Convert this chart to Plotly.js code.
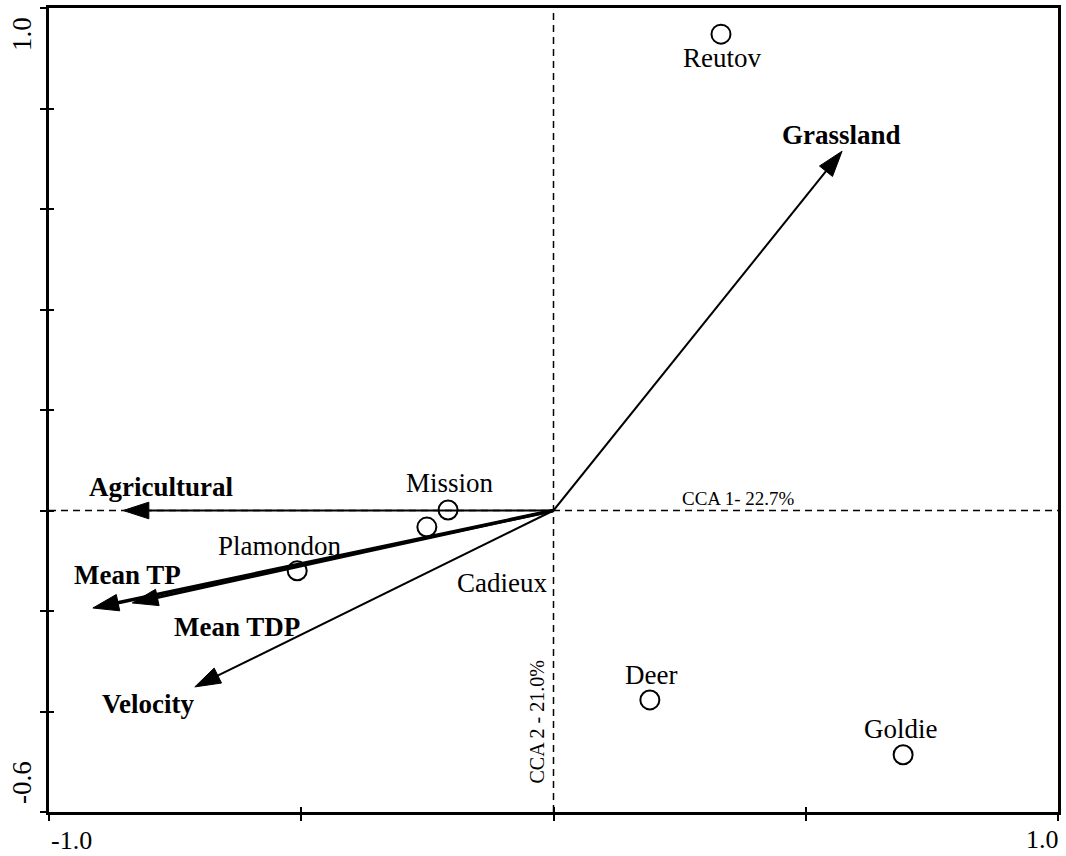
<!DOCTYPE html>
<html>
<head>
<meta charset="utf-8">
<script src="https://cdn.plot.ly/plotly-3.0.1.min.js"></script>
<style>html,body{margin:0;padding:0;background:#fff;}#chart{width:1066px;height:856px;}</style>
</head>
<body>
<div id="chart"></div>
<script>
// ---- data ----
const siteNames = ['Reutov', 'Mission', 'Cadieux', 'Plamondon', 'Deer', 'Goldie'];
const siteX = [0.332, -0.209, -0.251, -0.508, 0.191, 0.693];
const siteY = [0.948, 0.001, -0.033, -0.120, -0.377, -0.486];

const envNames = ['Grassland', 'Agricultural', 'Mean TP', 'Mean TDP', 'Velocity'];
const envX = [0.572, -0.853, -0.913, -0.835, -0.711];
const envY = [0.715, 0.000, -0.194, -0.184, -0.351];

const axis1Label = 'CCA 1- 22.7%';
const axis2Label = 'CCA 2 - 21.0%';

const xTickVals = [-1, -0.5, 0, 0.5, 1];
const yTickVals = [-0.6, -0.4, -0.2, 0, 0.2, 0.4, 0.6, 0.8, 1.0];
const xLabelVals = [-1, 1];
const xLabelText = ['-1.0', '1.0'];
const yLabelVals = [1.0, -0.6];
const yLabelText = ['1.0', '-0.6'];

// ---- styles / offsets (pixels) ----
const siteLabelShift = [[1, -24], [2, 27], [75, -56], [-17, 25], [1, 25], [-2, 26]];
const envLabelShift = [[-1, 16], [38, 24], [35, 33], [105, -24], [-47, -17]];
const envLineWidth = [2, 2, 3.5, 3, 2];
const xLabelShift = [[22, -28], [-16, -27]];
const yLabelShift = [[-27, -26], [-27, 29]];

const FONT = 'Liberation Serif, Times New Roman, serif';
const traces = [];

envNames.forEach((n, i) => {
  traces.push({
    type: 'scatter', mode: 'lines+markers',
    x: [0, envX[i]], y: [0, envY[i]],
    line: { color: '#000', width: envLineWidth[i] },
    marker: { symbol: 'arrow', angleref: 'previous', size: [0, 27], color: '#000', opacity: 1, line: { width: 1, color: '#000' } },
    hoverinfo: 'skip', showlegend: false, cliponaxis: false
  });
});

traces.push({
  type: 'scatter', mode: 'markers',
  x: siteX, y: siteY, text: siteNames,
  marker: { symbol: 'circle-open', size: 19, color: '#000', line: { width: 2, color: '#000' } },
  showlegend: false, cliponaxis: false
});

// dummy trace for overlay axes (inside tick marks)
traces.push({ type: 'scatter', mode: 'markers', x: [], y: [], xaxis: 'x2', yaxis: 'y2', showlegend: false });

const annotations = [];
function ann(o) {
  annotations.push(Object.assign({ showarrow: false, xanchor: 'center', yanchor: 'middle' }, o));
}
siteNames.forEach((n, i) => {
  ann({
    x: siteX[i], y: siteY[i], xref: 'x', yref: 'y', text: n,
    xshift: siteLabelShift[i][0], yshift: siteLabelShift[i][1],
    font: { family: FONT, size: 27, color: '#000' }
  });
});
envNames.forEach((n, i) => {
  ann({
    x: envX[i], y: envY[i], xref: 'x', yref: 'y', text: '<b>' + n + '</b>',
    xshift: envLabelShift[i][0], yshift: envLabelShift[i][1],
    font: { family: FONT, size: 27, color: '#000' }
  });
});
ann({
  x: 0.366, y: 0, xref: 'x', yref: 'y', text: axis1Label, yshift: 12,
  font: { family: FONT, size: 19, color: '#000' }
});
ann({
  x: 0, y: -0.421, xref: 'x', yref: 'y', text: axis2Label, textangle: -90, xshift: -16,
  font: { family: FONT, size: 20, color: '#000' }
});
xLabelVals.forEach((v, i) => {
  ann({
    x: v, y: 0, xref: 'x', yref: 'paper', text: xLabelText[i],
    xshift: xLabelShift[i][0], yshift: xLabelShift[i][1],
    font: { family: FONT, size: 26, color: '#000' }
  });
});
yLabelVals.forEach((v, i) => {
  ann({
    x: 0, y: v, xref: 'paper', yref: 'y', text: yLabelText[i], textangle: -90,
    xshift: yLabelShift[i][0], yshift: yLabelShift[i][1],
    font: { family: FONT, size: 27, color: '#000' }
  });
});

const shapes = [
  { type: 'line', xref: 'paper', yref: 'y', x0: 0, x1: 1, y0: 0, y1: 0, line: { color: '#000', width: 1.5, dash: '7px,5px' }, layer: 'below' },
  { type: 'line', xref: 'x', yref: 'paper', x0: 0, x1: 0, y0: 0, y1: 1, line: { color: '#000', width: 1.5, dash: '7px,5px' }, layer: 'below' }
];

const axBase = {
  showgrid: false, zeroline: false, showticklabels: false,
  showline: true, mirror: true, linecolor: '#000', linewidth: 3,
  ticks: 'outside', ticklen: 6, tickwidth: 2, tickcolor: '#000', tickmode: 'array'
};

const layout = {
  width: 1066, height: 856,
  margin: { l: 49, r: 8, t: 8, b: 44 },
  paper_bgcolor: '#fff', plot_bgcolor: '#fff',
  showlegend: false,
  xaxis: Object.assign({}, axBase, { range: [-1, 1], tickvals: xTickVals }),
  yaxis: Object.assign({}, axBase, { range: [-0.6, 1.0], tickvals: yTickVals }),
  xaxis2: { overlaying: 'x', range: [-1, 1], side: 'bottom', showgrid: false, zeroline: false, showline: false, showticklabels: false, ticks: 'inside', ticklen: 5, tickwidth: 2, tickcolor: '#000', tickmode: 'array', tickvals: xTickVals, anchor: 'y2' },
  yaxis2: { overlaying: 'y', range: [-0.6, 1.0], side: 'left', showgrid: false, zeroline: false, showline: false, showticklabels: false, ticks: 'inside', ticklen: 5, tickwidth: 2, tickcolor: '#000', tickmode: 'array', tickvals: yTickVals, anchor: 'x2' },
  annotations: annotations,
  shapes: shapes,
  font: { family: FONT, color: '#000' }
};

Plotly.newPlot('chart', traces, layout, { displayModeBar: false, staticPlot: true });
</script>
</body>
</html>
